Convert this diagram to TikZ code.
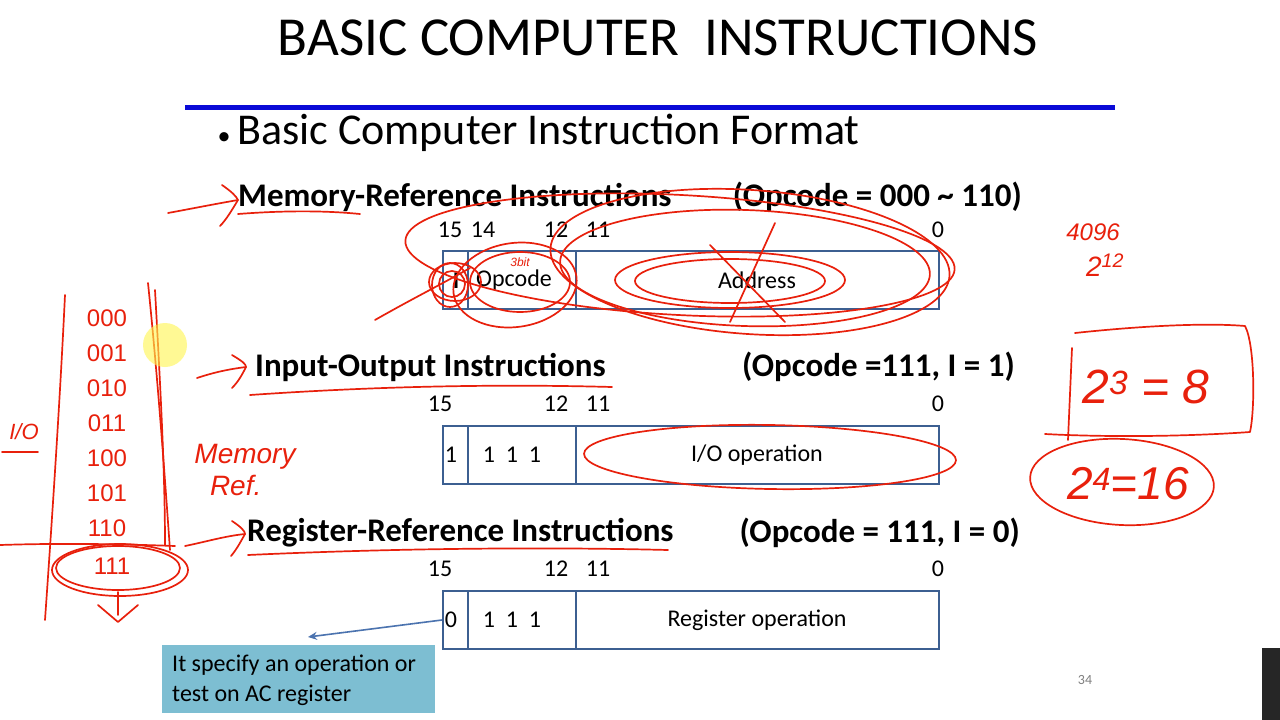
\documentclass[tikz,border=0pt]{standalone}
\usepackage{fontspec}
\usetikzlibrary{arrows.meta}
\setmainfont{Carlito}
\newfontfamily\handfont{Liberation Sans}
\definecolor{boxblue}{RGB}{60,95,145}
\definecolor{inkred}{RGB}{232,32,12}
\definecolor{rulblue}{RGB}{10,10,215}
\definecolor{callfill}{RGB}{125,190,210}
\definecolor{arrblue}{RGB}{75,115,175}
\tikzset{
  cell/.style={draw=boxblue, line width=2pt, minimum height=58pt, inner sep=0pt, anchor=north west, font=\fontsize{24}{28}\selectfont},
  bitlbl/.style={font=\fontsize{24}{28}\selectfont, inner sep=0pt},
  head/.style={font=\fontsize{33}{38}\selectfont\bfseries, inner sep=0pt},
  ink/.style={draw=inkred, line width=1.7pt, line cap=round, line join=round},
  inktext/.style={text=inkred, font=\handfont\itshape, inner sep=0pt},
  celltxt/.style={font=\fontsize{24}{28}\selectfont, inner sep=0pt},
}
\begin{document}
\begin{tikzpicture}[x=1pt,y=-1pt]
\useasboundingbox (0,0) rectangle (1280,720);
\fill[white] (0,0) rectangle (1280,720);

% title and rule
\node[inner sep=0pt] (title) at (658,38) {\fontsize{55}{62}\selectfont BASIC COMPUTER\ \ INSTRUCTIONS};
\draw[rulblue, line width=5pt] (185,107) -- (1115,107);
\node[inner sep=0pt] (bul) at (224,139) {\fontsize{26}{30}\selectfont\textbullet};
\node[anchor=west, inner sep=0pt] (fmt) at (237,133) {\fontsize{44}{50}\selectfont Basic Computer Instruction Format};

% ---- memory reference
\node[head, anchor=west] (memh) at (238,197) {Memory-Reference Instructions};
\node[head, anchor=east] (memop) at (1022,197) {(Opcode = 000 \textasciitilde{} 110)};
\node[cell, minimum width=25pt] (mI) at (442,250) {};
\node[cell, minimum width=108pt] (mop) at (467,250) {};
\node[cell, minimum width=363pt] (madr) at (575,250) {};
\node[celltxt, font=\fontsize{24}{28}\selectfont\bfseries] (mIt) at (456,281) {I};
\node[celltxt] (mopt) at (514,280) {Opcode};
\node[celltxt] (madrt) at (757,280) {Address};
\node[bitlbl] (m15) at (450,230) {15};
\node[bitlbl] (m14) at (483,230) {14};
\node[bitlbl] (m12) at (556,230) {12};
\node[bitlbl] (m11) at (598,230) {11};
\node[bitlbl] (m0) at (938,230) {0};

% ---- input-output
\node[head, anchor=west] (ioh) at (255,367) {Input-Output Instructions};
\node[head, anchor=east] (ioop) at (1015,367) {(Opcode =111, I = 1)};
\node[cell, minimum width=25pt] (iI) at (442,425) {};
\node[cell, minimum width=108pt] (iop) at (467,425) {};
\node[cell, minimum width=363pt] (iadr) at (575,425) {};
\node[celltxt] (iIt) at (451,455) {1};
\node[celltxt] (iopt) at (512,455) {1\ \ 1\ \ 1};
\node[celltxt] (iadrt) at (757,455) {I/O operation};
\node[bitlbl] (i15) at (440,404) {15};
\node[bitlbl] (i12) at (556,404) {12};
\node[bitlbl] (i11) at (598,404) {11};
\node[bitlbl] (i0) at (938,404) {0};

% ---- register reference
\node[head, anchor=west] (rgh) at (247,533) {Register-Reference Instructions};
\node[head, anchor=east] (rgop) at (1020,533) {(Opcode = 111, I = 0)};
\node[cell, minimum width=25pt] (rI) at (442,590) {};
\node[cell, minimum width=108pt] (rop) at (467,590) {};
\node[cell, minimum width=363pt] (radr) at (575,590) {};
\node[celltxt] (rIt) at (451,620) {0};
\node[celltxt] (ropt) at (512,620) {1\ \ 1\ \ 1};
\node[celltxt] (radrt) at (757,620) {Register operation};
\node[bitlbl] (r15) at (440,569) {15};
\node[bitlbl] (r12) at (556,569) {12};
\node[bitlbl] (r11) at (598,569) {11};
\node[bitlbl] (r0) at (938,569) {0};

% callout
\node[fill=callfill, anchor=north west, minimum width=273pt, minimum height=68pt, inner sep=0pt] (call) at (162,645) {};
\node[anchor=north west, align=left, inner sep=0pt, font=\fontsize{24}{30}\selectfont] (calltxt) at (172,655) {It specify an operation or\\test on AC register};
\coordinate (calltip) at (308,637);
\draw[arrblue, line width=1.6pt, -{Stealth[length=9pt,width=8pt]}] (rI.west) -- (calltip);

\node[text=gray, font=\fontsize{14}{16}\selectfont] (pg) at (1085,680) {34};
\fill[black!85] (1262,648) rectangle (1280,720);

% ---------- red handwriting ----------
% arrows towards headings
\draw[ink] (168,213) .. controls (195,208) and (215,204) .. (238,200);
\draw[ink] (222,185) .. controls (232,192) and (236,196) .. (238,200) .. controls (232,210) and (226,220) .. (220,226);
\draw[ink] (197,378) .. controls (215,372) and (230,369) .. (246,367);
\draw[ink] (232,355) .. controls (242,361) and (246,364) .. (246,367) .. controls (242,375) and (238,382) .. (232,388);
\draw[ink] (185,546) .. controls (205,542) and (225,536) .. (245,534);
\draw[ink] (232,521) .. controls (241,527) and (245,531) .. (245,534) .. controls (241,541) and (237,549) .. (231,556);
% underlines
\draw[ink] (238,214) .. controls (290,210) and (330,211) .. (360,214);
\draw[ink] (250,395) .. controls (380,386) and (500,384) .. (612,387);
\draw[ink] (248,555) .. controls (400,548) and (550,547) .. (668,550);

% memory row scribbles
\draw[ink] (452,284) circle (13pt);
\draw[ink] (450,285) ellipse [x radius=18pt, y radius=22pt];
\draw[ink] (455,282) ellipse [x radius=26pt, y radius=19pt];
\draw[ink] (375,320) .. controls (410,300) and (440,285) .. (470,268);
\draw[ink] (520,282) ellipse [x radius=50pt, y radius=30pt];
\draw[ink, rotate around={8:(515,285)}] (515,285) ellipse [x radius=62pt, y radius=42pt];
\draw[ink] (730,281) ellipse [x radius=95pt, y radius=22pt];
\draw[ink] (730,280) ellipse [x radius=115pt, y radius=28pt];
\draw[ink, rotate around={-4:(750,262)}] (750,262) ellipse [x radius=200pt, y radius=72pt];
\draw[ink, rotate around={-2:(745,268)}] (745,268) ellipse [x radius=185pt, y radius=58pt];
\draw[ink, rotate around={-3:(680,255)}] (680,255) ellipse [x radius=275pt, y radius=60pt];
\draw[ink] (710,245) -- (785,322);
\draw[ink] (775,223) -- (730,322);
\node[inktext, font=\handfont\itshape\fontsize{12}{14}\selectfont] (sbit) at (520,262) {3bit};

% I/O row
\draw[ink, rotate around={-1:(770,457)}] (770,457) ellipse [x radius=186pt, y radius=32pt];

% left column of opcodes
\draw[ink] (65,295) .. controls (60,400) and (52,520) .. (45,620);
\draw[ink] (148,283) .. controls (158,380) and (165,480) .. (170,550);
\draw[ink] (155,290) .. controls (160,380) and (165,470) .. (165,545);
\draw[ink] (0,545) .. controls (60,543) and (120,544) .. (175,546);
\foreach \v [count=\i] in {000,001,010,011,100,101,110}{
  \node[inktext, font=\handfont\fontsize{24}{26}\selectfont] (op\i) at (107,283+35*\i) {\v};
}
\node[inktext, font=\handfont\fontsize{24}{26}\selectfont] (op8) at (112,566) {111};
\draw[ink] (118,568) ellipse [x radius=62pt, y radius=22pt];
\draw[ink] (120,570) ellipse [x radius=68pt, y radius=26pt];
\draw[ink] (118,592) -- (118,615);
\draw[ink] (98,605) -- (118,622) -- (138,605);
\node[inktext, font=\handfont\itshape\fontsize{22}{24}\selectfont] (iolbl) at (24,432) {I/O};
\draw[ink] (2,452) -- (38,452);
\node[inktext, align=left, font=\handfont\itshape\fontsize{28}{32}\selectfont] (memref) at (245,470) {Memory\\\ \ Ref.};
\fill[yellow!70, opacity=0.6] (165,345) circle (22pt);

% right side notes
\node[inktext, font=\handfont\itshape\fontsize{24}{26}\selectfont] (n4096) at (1093,232) {4096};
\node[inktext, font=\handfont\itshape\fontsize{28}{30}\selectfont] (n212) at (1105,265) {2\textsuperscript{12}};
\draw[ink] (1075,333) .. controls (1150,325) and (1210,323) .. (1245,326) .. controls (1255,345) and (1255,410) .. (1250,432) .. controls (1180,437) and (1100,437) .. (1045,434);
\draw[ink] (1072,348) -- (1068,440);
\node[inktext, font=\handfont\itshape\fontsize{48}{52}\selectfont] (n8) at (1146,387) {2\textsuperscript{3} = 8};
\draw[ink, rotate around={-3:(1122,482)}] (1122,482) ellipse [x radius=92pt, y radius=43pt];
\node[inktext, font=\handfont\itshape\fontsize{46}{50}\selectfont] (n16) at (1128,484) {2\textsuperscript{4}=16};
\end{tikzpicture}
\end{document}
